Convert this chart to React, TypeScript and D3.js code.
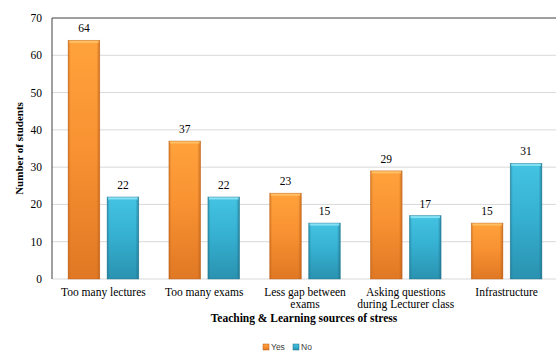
import React from "react";
import * as d3 from "d3";

const categories = [
  ["Too many lectures"],
  ["Too many exams"],
  ["Less gap between", "exams"],
  ["Asking questions", "during Lecturer class"],
  ["Infrastructure"],
];
const seriesNames = ["Yes", "No"];
const yesValues = [64, 37, 23, 29, 15];
const noValues = [22, 22, 15, 17, 31];
const yTicks = [0, 10, 20, 30, 40, 50, 60, 70];

const W = 556;
const H = 352;
const M = { left: 52, right: 0, top: 18, bottom: 73 };

const palette = {
  Yes: { top: "#ffa23c", mid: "#f89232", bottom: "#e07824", edge: "#b95e17", hi: "#ffc46a" },
  No: { top: "#44c3e2", mid: "#36b1d2", bottom: "#2a92b0", edge: "#1e6f88", hi: "#8fe6f7" },
};

export default function App() {
  const innerW = W - M.left - M.right;
  const innerH = H - M.top - M.bottom;
  const x0 = d3
    .scaleBand<number>()
    .domain(d3.range(categories.length))
    .range([M.left, M.left + innerW])
    .paddingInner(0)
    .paddingOuter(0);
  const groupW = x0.bandwidth() * 0.7;
  const x1 = d3
    .scaleBand<string>()
    .domain(seriesNames)
    .range([0, groupW])
    .paddingInner(0.19);
  const y = d3.scaleLinear().domain([0, 70]).range([M.top + innerH, M.top]);
  const serif = "'Liberation Serif', 'Times New Roman', serif";
  const bw = x1.bandwidth();

  const data = seriesNames.map((s, si) => ({
    name: s,
    values: si === 0 ? yesValues : noValues,
  }));

  return (
    <svg width={W} height={H} style={{ position: "absolute", left: 0, top: 0 }}>
      <defs>
        {seriesNames.map((s) => {
          const c = palette[s as "Yes" | "No"];
          return (
            <React.Fragment key={s}>
              <linearGradient id={`v-${s}`} x1="0" y1="0" x2="0" y2="1">
                <stop offset="0%" stopColor={c.top} />
                <stop offset="45%" stopColor={c.mid} />
                <stop offset="100%" stopColor={c.bottom} />
              </linearGradient>
              <linearGradient id={`h-${s}`} x1="0" y1="0" x2="1" y2="0">
                <stop offset="0%" stopColor={c.edge} stopOpacity={0.55} />
                <stop offset="8%" stopColor={c.edge} stopOpacity={0} />
                <stop offset="90%" stopColor={c.edge} stopOpacity={0} />
                <stop offset="100%" stopColor={c.edge} stopOpacity={0.7} />
              </linearGradient>
            </React.Fragment>
          );
        })}
      </defs>
      <rect width={W} height={H} fill="#ffffff" />
      {/* gridlines */}
      {yTicks.map((t) => (
        <line
          key={t}
          x1={M.left}
          x2={W}
          y1={y(t)}
          y2={y(t)}
          stroke={t === 70 ? "#7f7f7f" : "#d9d9d9"}
          strokeWidth={t === 70 ? 1.3 : 1}
        />
      ))}
      {/* y axis line */}
      <line x1={M.left} x2={M.left} y1={y(70)} y2={y(0)} stroke="#404040" strokeWidth={1} />
      {/* y tick labels */}
      {yTicks.map((t) => (
        <text
          key={t}
          x={M.left - 10}
          y={y(t)}
          dy="0.35em"
          textAnchor="end"
          fontFamily={serif}
          fontSize={11.5}
          fill="#000"
        >
          {t}
        </text>
      ))}
      {/* bars */}
      {categories.map((_, ci) => {
        const gx = (x0(ci) as number) + (x0.bandwidth() - groupW) / 2 + 1;
        return (
          <g key={ci}>
            {data.map((s) => {
              const v = s.values[ci];
              const bx = gx + (x1(s.name) as number);
              const by = y(v);
              const bh = y(0) - by;
              const c = palette[s.name as "Yes" | "No"];
              return (
                <g key={s.name}>
                  <rect x={bx} y={by} width={bw} height={bh} fill={`url(#v-${s.name})`} />
                  <rect x={bx} y={by} width={bw} height={bh} fill={`url(#h-${s.name})`} />
                  <rect x={bx + 1} y={by} width={bw - 2} height={2.5} fill={c.hi} opacity={0.85} />
                  <rect
                    x={bx}
                    y={by}
                    width={bw}
                    height={bh}
                    fill="none"
                    stroke={c.edge}
                    strokeOpacity={0.5}
                    strokeWidth={0.8}
                  />
                  <text
                    x={bx + bw / 2}
                    y={by - 8}
                    textAnchor="middle"
                    fontFamily={serif}
                    fontSize={11.5}
                    fill="#000"
                  >
                    {v}
                  </text>
                </g>
              );
            })}
          </g>
        );
      })}
      {/* category labels */}
      {categories.map((lines, ci) => {
        const cx = (x0(ci) as number) + x0.bandwidth() / 2 + 1;
        return (
          <text key={ci} textAnchor="middle" fontFamily={serif} fontSize={11.5} fill="#000">
            {lines.map((l, li) => (
              <tspan key={li} x={cx} y={y(0) + 17 + li * 12}>
                {l}
              </tspan>
            ))}
          </text>
        );
      })}
      {/* axis titles */}
      <text
        x={M.left + innerW / 2}
        y={322}
        textAnchor="middle"
        fontFamily={serif}
        fontSize={11.5}
        fontWeight="bold"
        fill="#000"
      >
        Teaching &amp; Learning sources of stress
      </text>
      <text
        transform={`translate(23, ${M.top + innerH / 2}) rotate(-90)`}
        textAnchor="middle"
        fontFamily={serif}
        fontSize={11}
        fontWeight="bold"
        fill="#000"
      >
        Number of students
      </text>
      {/* legend */}
      {seriesNames.map((s, i) => {
        const lx = 263 + i * 30;
        const c = palette[s as "Yes" | "No"];
        return (
          <g key={s}>
            <rect x={lx} y={344} width={6} height={6} fill={`url(#v-${s})`} stroke={c.edge} strokeWidth={0.5} />
            <text x={lx + 8} y={350} fontFamily="'Liberation Sans', Arial, sans-serif" fontSize={8.5} fill="#404040">
              {s}
            </text>
          </g>
        );
      })}
    </svg>
  );
}
